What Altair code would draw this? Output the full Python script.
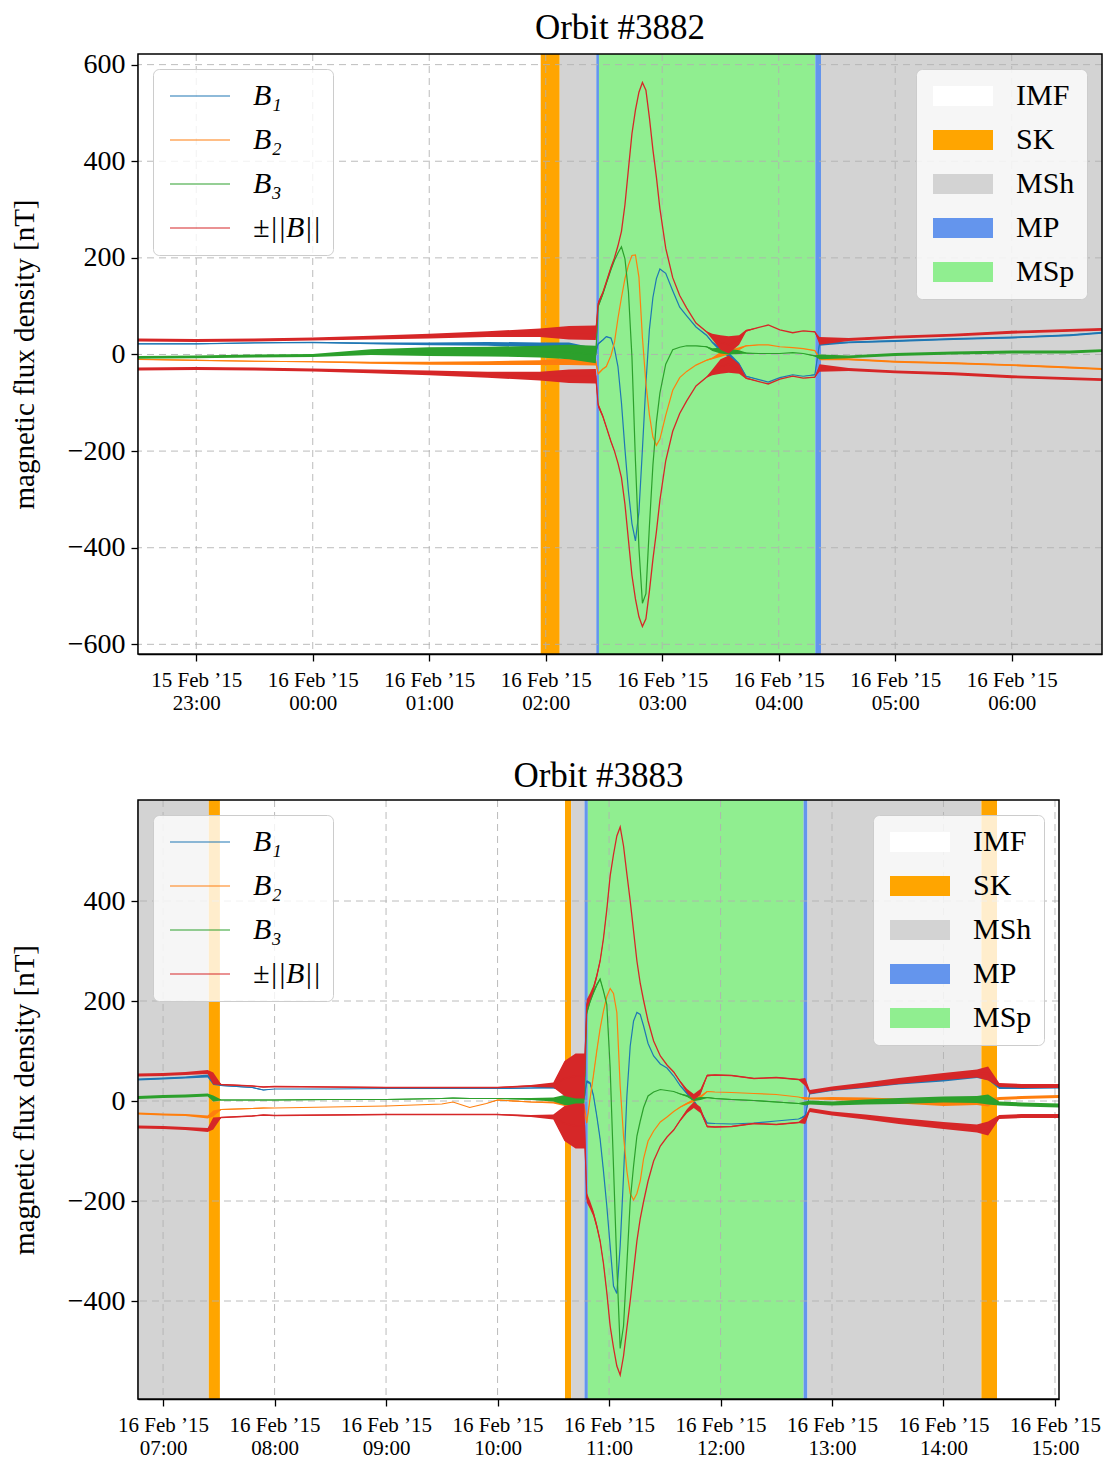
import altair as alt
import pandas as pd

# ---------------- data ----------------
TITLES = ["Orbit #3882", "Orbit #3883"]
SERIES = ["B₁", "B₂", "B₃", "±||B||"]
SERIES_COLORS = ["#1f77b4", "#ff7f0e", "#2ca02c", "#d62728"]
REGIONS = ["IMF", "SK", "MSh", "MP", "MSp"]
REGION_COLORS = ["#ffffff", "#ffa500", "#d3d3d3", "#6495ed", "#90ee90"]
Y_TITLE = "magnetic flux density [nT]"

# times are hours relative to 16 Feb 2015 00:00 UTC
TOP_RANGE = [-1.5, 6.775]
TOP_TICKS = [-1, 0, 1, 2, 3, 4, 5, 6]
TOP_YTICKS = [-600, -400, -200, 0, 200, 400, 600]
TOP_YDOMAIN = [-620, 622]
TOP_REG_NAME = ["IMF", "SK", "MSh", "MP", "MSp", "MP", "MSh"]
TOP_REG_START = [-1.5, 1.957, 2.12, 2.434, 2.457, 4.314, 4.363]
TOP_REG_END = [1.957, 2.12, 2.434, 2.457, 4.314, 4.363, 6.775]

TOP_T = [-1.5, -1.0, -0.5, 0.0, 0.5, 1.0, 1.5, 1.95, 2.2, 2.43,
         2.45, 2.49, 2.52, 2.56, 2.59, 2.62, 2.65, 2.68, 2.71, 2.74,
         2.77, 2.80, 2.83, 2.86, 2.89, 2.92, 2.95, 2.98, 3.03, 3.09,
         3.15, 3.21, 3.29, 3.38, 3.43, 3.50, 3.57, 3.66, 3.72, 3.83,
         3.91, 4.01, 4.12, 4.21, 4.31, 4.35, 4.6, 5.0, 5.5, 6.0,
         6.5, 6.775]
TOP_B1 = [22, 22, 24, 25, 23, 22, 22, 20, 18, 5,
          22, 30, 37, 34, 12, -25, -100, -196, -283, -350,
          -386, -326, -196, -60, 52, 118, 157, 177, 168, 132,
          98, 80, 57, 40, 25, 10, 0, -20, -45, -52,
          -57, -48, -42, -45, -42, 22, 25, 28, 32, 35,
          40, 45]
TOP_B2 = [-10, -12, -14, -15, -17, -18, -18, -17, -15, -15,
          -40, -30, -25, -2, 25, 75, 118, 157, 185, 205,
          206, 160, 35, -60, -125, -171, -188, -175, -126, -74,
          -48, -35, -22, -12, -8, 0, 5, 12, 18, 20,
          20, 16, 14, 12, 8, -8, -10, -15, -18, -22,
          -27, -30]
TOP_B3 = [-6, -5, -3, -2, 5, 6, 6, 6, 5, 0,
          100, 125, 147, 176, 195, 210, 223, 198, 130, -5,
          -220, -400, -515, -495, -355, -229, -140, -80, -20, 10,
          15, 18, 18, 16, 10, 8, 6, 5, 3, 2,
          2, 2, 4, 2, -3, -5, -5, 0, 3, 5,
          5, 8]
TOP_BMAG = [30, 29, 30, 32, 35, 38, 42, 45, 45, 45,
            105, 128, 150, 180, 200, 225, 255, 310, 384, 457,
            506, 543, 563, 547, 490, 424, 367, 302, 220, 159,
            122, 96, 65, 47, 37, 25, 20, 30, 49, 56,
            61, 51, 45, 49, 47, 28, 31, 36, 40, 46,
            50, 52]
# half-width of the high-frequency fluctuation band (nT)
TOP_NOISE_BMAG = [3, 3, 3, 3, 4, 5, 6, 9, 14, 15,
                  5, 3, 2, 2, 1, 0, 0, 0, 0, 0,
                  0, 0, 0, 0, 0, 0, 0, 0, 0, 0,
                  0, 0, 0, 1, 6, 15, 18, 10, 2, 0,
                  0, 0, 0, 0, 1, 8, 3, 3, 3, 3,
                  3, 3]
TOP_NOISE_B3 = [3, 3, 3, 3, 6, 9, 10, 12, 15, 18,
                4, 3, 2, 2, 1, 0, 0, 0, 0, 0,
                0, 0, 0, 0, 0, 0, 0, 0, 0, 0,
                0, 0, 0, 1, 3, 6, 6, 4, 1, 0,
                0, 0, 0, 0, 1, 5, 3, 3, 3, 3,
                3, 3]
TOP_NOISE_B12 = [1, 1, 1, 1, 2, 3, 4, 5, 7, 8,
                 2, 1, 1, 0, 0, 0, 0, 0, 0, 0,
                 0, 0, 0, 0, 0, 0, 0, 0, 0, 0,
                 0, 0, 0, 1, 2, 5, 5, 3, 1, 0,
                 0, 0, 0, 0, 1, 4, 2, 2, 2, 2,
                 2, 2]

BOT_RANGE = [6.775, 15.036]
BOT_TICKS = [7, 8, 9, 10, 11, 12, 13, 14, 15]
BOT_YTICKS = [-400, -200, 0, 200, 400]
BOT_YDOMAIN = [-596, 602]
BOT_REG_NAME = ["MSh", "SK", "IMF", "SK", "MSh", "MP", "MSp", "MP", "MSh", "SK", "IMF"]
BOT_REG_START = [6.775, 7.41, 7.51, 10.605, 10.66, 10.78, 10.81, 12.745, 12.78, 14.34, 14.48]
BOT_REG_END = [7.41, 7.51, 10.605, 10.66, 10.78, 10.81, 12.745, 12.78, 14.34, 14.48, 15.036]

BOT_T = [6.775, 7.0, 7.2, 7.40, 7.45, 7.52, 7.8, 7.9, 8.0, 8.5,
         9.0, 9.5, 9.6, 9.75, 9.9, 10.0, 10.3, 10.5, 10.6, 10.7,
         10.78, 10.80, 10.83, 10.86, 10.89, 10.92, 10.95, 10.98, 11.01, 11.04,
         11.07, 11.10, 11.13, 11.16, 11.19, 11.22, 11.25, 11.28, 11.31, 11.35,
         11.40, 11.46, 11.52, 11.58, 11.64, 11.70, 11.76, 11.82, 11.88, 11.95,
         12.1, 12.3, 12.5, 12.7, 12.76, 12.8, 13.0, 13.3, 13.6, 14.0,
         14.3, 14.4, 14.5, 14.7, 15.036]
BOT_B1 = [43, 45, 47, 50, 38, 31, 27, 22, 24, 24,
          25, 25, 25, 25, 25, 25, 26, 27, 25, 15,
          10, 39, 36, 11, -30, -76, -140, -210, -290, -370,
          -385, -290, -150, 10, 110, 160, 177, 173, 150, 115,
          90, 74, 66, 50, 30, 15, 0, -20, -44, -45,
          -46, -44, -40, -36, -30, 15, 23, 30, 38, 44,
          51, 50, 27, 27, 28]
BOT_B2 = [-25, -27, -28, -32, -25, -17, -15, -14, -14, -12,
          -10, -6, -2, -13, -5, 2, -2, -3, -5, -10,
          -15, -44, 5, 51, 100, 145, 180, 209, 225, 215,
          177, 30, -70, -140, -185, -198, -185, -160, -115, -80,
          -60, -42, -32, -21, -12, -5, 1, 8, 19, 18,
          17, 15, 13, 8, 5, 5, 5, 3, 0, -5,
          -3, -3, 5, 7, 9]
BOT_B3 = [7, 9, 10, 12, 5, 2, 2, 2, 2, 3,
          3, 5, 6, 5, 5, 5, 4, 3, 2, 5,
          10, 177, 200, 217, 232, 244, 220, 193, 66, -131,
          -329, -495, -450, -326, -200, -130, -70, -40, -13, 10,
          18, 23, 21, 19, 14, 10, 3, 5, 7, 5,
          3, 1, -2, -5, -5, -3, -5, -2, 0, 3,
          3, 3, -5, -7, -9]
BOT_BMAG = [52, 53, 55, 58, 45, 33, 30, 28, 29, 28,
            27, 27, 27, 27, 27, 27, 30, 32, 45, 50,
            50, 193, 208, 225, 250, 280, 325, 383, 450, 493,
            530, 548, 510, 454, 400, 340, 280, 235, 201, 160,
            120, 90, 72, 58, 38, 20, 8, 18, 51, 52,
            51, 45, 47, 43, 38, 18, 25, 32, 40, 49,
            55, 55, 32, 30, 30]
BOT_NOISE_BMAG = [3, 3, 3, 4, 12, 1, 1, 1, 1, 1,
                  1, 1, 1, 1, 1, 1, 2, 5, 35, 45,
                  45, 10, 8, 6, 5, 4, 3, 2, 1, 0,
                  0, 0, 0, 0, 0, 0, 0, 0, 0, 0,
                  0, 0, 0, 1, 2, 4, 6, 6, 2, 1,
                  1, 1, 1, 1, 8, 4, 4, 5, 6, 7,
                  8, 14, 4, 4, 4]
BOT_NOISE_B3 = [3, 3, 3, 3, 6, 1, 1, 1, 1, 1,
                1, 1, 1, 1, 1, 1, 2, 4, 10, 15,
                15, 6, 5, 4, 3, 2, 1, 1, 0, 0,
                0, 0, 0, 0, 0, 0, 0, 0, 0, 0,
                0, 0, 0, 0, 1, 2, 3, 3, 1, 1,
                1, 1, 1, 1, 4, 4, 4, 5, 6, 6,
                7, 10, 4, 4, 4]
BOT_NOISE_B12 = [2, 2, 2, 3, 6, 1, 1, 1, 0, 0,
                 0, 0, 0, 0, 0, 1, 1, 2, 5, 8,
                 8, 3, 2, 2, 2, 1, 1, 0, 0, 0,
                 0, 0, 0, 0, 0, 0, 0, 0, 0, 0,
                 0, 0, 0, 0, 1, 2, 3, 3, 1, 0,
                 0, 0, 0, 0, 3, 2, 3, 4, 5, 5,
                 5, 8, 3, 3, 3]

BASE = pd.Timestamp("2015-02-16 00:00:00")
FONT = "Liberation Serif"


def to_ms(h):
    return int((BASE + pd.to_timedelta(h, unit="h")).value // 10**6)


def panel(title, rng, ticks, yticks, ydom, reg_name, reg_start, reg_end,
          T, B1, B2, B3, BM, NZ_BM, NZ_B3, NZ_B12, W, H):
    t_ms = [to_ms(h) for h in T]
    rows = []
    for name, vals, nz in zip(SERIES[:3], [B1, B2, B3], [NZ_B12, NZ_B12, NZ_B3]):
        for t, v, n in zip(t_ms, vals, nz):
            rows.append(dict(t=t, val=v, lo=v - n, hi=v + n, series=name, part=name))
    for sign, part in [(1, "plus"), (-1, "minus")]:
        for t, v, n in zip(t_ms, BM, NZ_BM):
            rows.append(dict(t=t, val=sign * v, lo=sign * v - n, hi=sign * v + n,
                             series=SERIES[3], part=part))
    lines = pd.DataFrame(rows)

    reg_df = pd.DataFrame({
        "region": reg_name,
        "start": [to_ms(h) for h in reg_start],
        "end": [to_ms(h) for h in reg_end],
    })

    tick_ms = [to_ms(h) for h in ticks]
    xscale = alt.Scale(type="utc", domain=[to_ms(rng[0]), to_ms(rng[1])], nice=False)
    yscale = alt.Scale(domain=ydom, nice=False, zero=False)
    xaxis = alt.Axis(
        values=tick_ms, grid=False, title=None,
        labelExpr="[utcFormat(datum.value, '%d %b ’%y'), utcFormat(datum.value, '%H:%M')]",
        labelFontSize=21, labelLineHeight=23, labelPadding=8, labelFont=FONT,
        labelAlign="center", labelBaseline="top", labelFlush=False, labelOverlap=False,
    )
    yaxis = alt.Axis(
        values=yticks, grid=False, title=Y_TITLE, titleFontSize=29, titlePadding=28,
        labelFontSize=28, labelPadding=6, labelFont=FONT, titleFont=FONT,
        titleFontWeight="normal",
    )

    def X(field):
        return alt.X(field, type="temporal", scale=xscale, axis=xaxis)

    def Y(field):
        return alt.Y(field, type="quantitative", scale=yscale, axis=yaxis)

    region_legend = alt.Legend(
        title=None, orient="top-right", offset=15, padding=12,
        fillColor="rgba(255,255,255,0.8)", strokeColor="#cccccc", cornerRadius=6,
        labelFont=FONT, labelFontSize=30, labelOffset=58, rowPadding=14,
        symbolType="M-1,-1H5V1H-1Z", symbolSize=400, symbolStrokeWidth=0,
        symbolOpacity=1,
    )
    line_legend = alt.Legend(
        title=None, orient="top-left", offset=15, padding=12,
        fillColor="rgba(255,255,255,0.8)", strokeColor="#cccccc", cornerRadius=6,
        labelFont=FONT, labelFontSize=30, labelFontStyle="italic", labelOffset=58,
        rowPadding=14, symbolType="M-1,0H5", symbolSize=400, symbolStrokeWidth=1.2,
    )
    stroke_scale = alt.Scale(domain=SERIES, range=SERIES_COLORS)

    layers = []
    layers.append(
        alt.Chart(reg_df).mark_rect(opacity=1).encode(
            x=X("start"), x2="end",
            color=alt.Color("region:N", scale=alt.Scale(domain=REGIONS, range=REGION_COLORS),
                            legend=region_legend),
        )
    )
    layers.append(
        alt.Chart(pd.DataFrame({"tick": tick_ms})).mark_rule(
            color="#b0b0b0", strokeDash=[7, 5], strokeWidth=1, opacity=0.85
        ).encode(x=X("tick"))
    )
    layers.append(
        alt.Chart(pd.DataFrame({"ytick": yticks})).mark_rule(
            color="#b0b0b0", strokeDash=[7, 5], strokeWidth=1, opacity=0.85
        ).encode(y=Y("ytick"))
    )
    for name, color in zip(SERIES, SERIES_COLORS):
        sub = lines[lines["series"] == name]
        layers.append(
            alt.Chart(sub).mark_area(color=color, opacity=1, clip=True).encode(
                x=X("t"), y=Y("lo"), y2="hi", detail="part:N",
            )
        )
        layers.append(
            alt.Chart(sub).mark_line(strokeWidth=1.3 if name == SERIES[3] else 1.2, clip=True).encode(
                x=X("t"), y=Y("val"),
                stroke=alt.Stroke("series:N", scale=stroke_scale, legend=line_legend),
                detail="part:N",
            )
        )
    layers.append(
        alt.Chart(pd.DataFrame({"f": [0]})).mark_rect(
            fillOpacity=0, stroke="black", strokeWidth=1.5
        ).encode(x=alt.value(0), x2=alt.value(W), y=alt.value(0), y2=alt.value(H))
    )
    return alt.layer(*layers).properties(
        width=W, height=H,
        title=alt.Title(title, font=FONT, fontSize=35, fontWeight="normal", color="black", offset=5),
    )


top = panel(TITLES[0], TOP_RANGE, TOP_TICKS, TOP_YTICKS, TOP_YDOMAIN,
            TOP_REG_NAME, TOP_REG_START, TOP_REG_END,
            TOP_T, TOP_B1, TOP_B2, TOP_B3, TOP_BMAG,
            TOP_NOISE_BMAG, TOP_NOISE_B3, TOP_NOISE_B12, 964, 600)
bottom = panel(TITLES[1], BOT_RANGE, BOT_TICKS, BOT_YTICKS, BOT_YDOMAIN,
               BOT_REG_NAME, BOT_REG_START, BOT_REG_END,
               BOT_T, BOT_B1, BOT_B2, BOT_B3, BOT_BMAG,
               BOT_NOISE_BMAG, BOT_NOISE_B3, BOT_NOISE_B12, 921, 599)

chart = alt.vconcat(top, bottom, spacing=46).resolve_scale(
    x="independent", y="independent", color="independent", stroke="independent"
).properties(
    padding={"left": 10, "top": 10, "right": 2, "bottom": 0}
).configure_view(strokeWidth=0).configure_axis(
    labelColor="black", titleColor="black", domainColor="black", tickColor="black",
    domainWidth=1.5, tickWidth=1.3, tickSize=7,
)

chart.save("out.html", embed_options={"renderer": "svg", "actions": False})
